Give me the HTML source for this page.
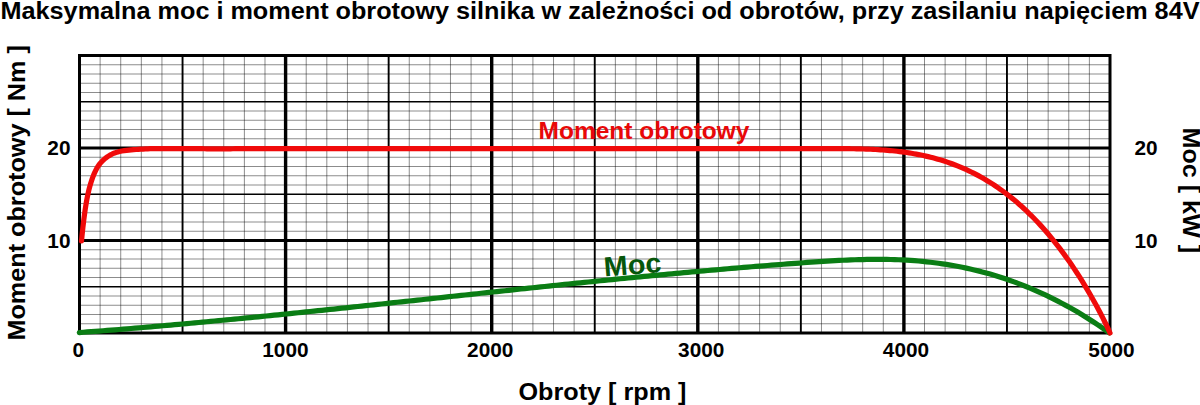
<!DOCTYPE html>
<html><head><meta charset="utf-8"><title>Moc i moment obrotowy</title>
<style>
html,body{margin:0;padding:0;background:#fff;}
body{width:1200px;height:405px;overflow:hidden;}
svg{display:block;}
</style></head><body>
<svg width="1200" height="405" viewBox="0 0 1200 405">
<rect width="1200" height="405" fill="#fff"/>
<g id="grid" shape-rendering="auto">
<line x1="100.11" y1="55.5" x2="100.11" y2="333" stroke="#000" stroke-opacity="0.45" stroke-width="1"/>
<line x1="120.72" y1="55.5" x2="120.72" y2="333" stroke="#000" stroke-opacity="0.45" stroke-width="1"/>
<line x1="141.33" y1="55.5" x2="141.33" y2="333" stroke="#000" stroke-opacity="0.45" stroke-width="1"/>
<line x1="161.94" y1="55.5" x2="161.94" y2="333" stroke="#000" stroke-opacity="0.45" stroke-width="1"/>
<line x1="182.55" y1="55.5" x2="182.55" y2="333" stroke="#000" stroke-width="1.9"/>
<line x1="203.16" y1="55.5" x2="203.16" y2="333" stroke="#000" stroke-opacity="0.45" stroke-width="1"/>
<line x1="223.77" y1="55.5" x2="223.77" y2="333" stroke="#000" stroke-opacity="0.45" stroke-width="1"/>
<line x1="244.38" y1="55.5" x2="244.38" y2="333" stroke="#000" stroke-opacity="0.45" stroke-width="1"/>
<line x1="264.99" y1="55.5" x2="264.99" y2="333" stroke="#000" stroke-opacity="0.45" stroke-width="1"/>
<line x1="285.60" y1="55.5" x2="285.60" y2="333" stroke="#000" stroke-width="3.4"/>
<line x1="306.21" y1="55.5" x2="306.21" y2="333" stroke="#000" stroke-opacity="0.45" stroke-width="1"/>
<line x1="326.82" y1="55.5" x2="326.82" y2="333" stroke="#000" stroke-opacity="0.45" stroke-width="1"/>
<line x1="347.43" y1="55.5" x2="347.43" y2="333" stroke="#000" stroke-opacity="0.45" stroke-width="1"/>
<line x1="368.04" y1="55.5" x2="368.04" y2="333" stroke="#000" stroke-opacity="0.45" stroke-width="1"/>
<line x1="388.65" y1="55.5" x2="388.65" y2="333" stroke="#000" stroke-width="1.9"/>
<line x1="409.26" y1="55.5" x2="409.26" y2="333" stroke="#000" stroke-opacity="0.45" stroke-width="1"/>
<line x1="429.87" y1="55.5" x2="429.87" y2="333" stroke="#000" stroke-opacity="0.45" stroke-width="1"/>
<line x1="450.48" y1="55.5" x2="450.48" y2="333" stroke="#000" stroke-opacity="0.45" stroke-width="1"/>
<line x1="471.09" y1="55.5" x2="471.09" y2="333" stroke="#000" stroke-opacity="0.45" stroke-width="1"/>
<line x1="491.70" y1="55.5" x2="491.70" y2="333" stroke="#000" stroke-width="3.4"/>
<line x1="512.31" y1="55.5" x2="512.31" y2="333" stroke="#000" stroke-opacity="0.45" stroke-width="1"/>
<line x1="532.92" y1="55.5" x2="532.92" y2="333" stroke="#000" stroke-opacity="0.45" stroke-width="1"/>
<line x1="553.53" y1="55.5" x2="553.53" y2="333" stroke="#000" stroke-opacity="0.45" stroke-width="1"/>
<line x1="574.14" y1="55.5" x2="574.14" y2="333" stroke="#000" stroke-opacity="0.45" stroke-width="1"/>
<line x1="594.75" y1="55.5" x2="594.75" y2="333" stroke="#000" stroke-width="1.9"/>
<line x1="615.36" y1="55.5" x2="615.36" y2="333" stroke="#000" stroke-opacity="0.45" stroke-width="1"/>
<line x1="635.97" y1="55.5" x2="635.97" y2="333" stroke="#000" stroke-opacity="0.45" stroke-width="1"/>
<line x1="656.58" y1="55.5" x2="656.58" y2="333" stroke="#000" stroke-opacity="0.45" stroke-width="1"/>
<line x1="677.19" y1="55.5" x2="677.19" y2="333" stroke="#000" stroke-opacity="0.45" stroke-width="1"/>
<line x1="697.80" y1="55.5" x2="697.80" y2="333" stroke="#000" stroke-width="3.4"/>
<line x1="718.41" y1="55.5" x2="718.41" y2="333" stroke="#000" stroke-opacity="0.45" stroke-width="1"/>
<line x1="739.02" y1="55.5" x2="739.02" y2="333" stroke="#000" stroke-opacity="0.45" stroke-width="1"/>
<line x1="759.63" y1="55.5" x2="759.63" y2="333" stroke="#000" stroke-opacity="0.45" stroke-width="1"/>
<line x1="780.24" y1="55.5" x2="780.24" y2="333" stroke="#000" stroke-opacity="0.45" stroke-width="1"/>
<line x1="800.85" y1="55.5" x2="800.85" y2="333" stroke="#000" stroke-width="1.9"/>
<line x1="821.46" y1="55.5" x2="821.46" y2="333" stroke="#000" stroke-opacity="0.45" stroke-width="1"/>
<line x1="842.07" y1="55.5" x2="842.07" y2="333" stroke="#000" stroke-opacity="0.45" stroke-width="1"/>
<line x1="862.68" y1="55.5" x2="862.68" y2="333" stroke="#000" stroke-opacity="0.45" stroke-width="1"/>
<line x1="883.29" y1="55.5" x2="883.29" y2="333" stroke="#000" stroke-opacity="0.45" stroke-width="1"/>
<line x1="903.90" y1="55.5" x2="903.90" y2="333" stroke="#000" stroke-width="3.4"/>
<line x1="924.51" y1="55.5" x2="924.51" y2="333" stroke="#000" stroke-opacity="0.45" stroke-width="1"/>
<line x1="945.12" y1="55.5" x2="945.12" y2="333" stroke="#000" stroke-opacity="0.45" stroke-width="1"/>
<line x1="965.73" y1="55.5" x2="965.73" y2="333" stroke="#000" stroke-opacity="0.45" stroke-width="1"/>
<line x1="986.34" y1="55.5" x2="986.34" y2="333" stroke="#000" stroke-opacity="0.45" stroke-width="1"/>
<line x1="1006.95" y1="55.5" x2="1006.95" y2="333" stroke="#000" stroke-width="1.9"/>
<line x1="1027.56" y1="55.5" x2="1027.56" y2="333" stroke="#000" stroke-opacity="0.45" stroke-width="1"/>
<line x1="1048.17" y1="55.5" x2="1048.17" y2="333" stroke="#000" stroke-opacity="0.45" stroke-width="1"/>
<line x1="1068.78" y1="55.5" x2="1068.78" y2="333" stroke="#000" stroke-opacity="0.45" stroke-width="1"/>
<line x1="1089.39" y1="55.5" x2="1089.39" y2="333" stroke="#000" stroke-opacity="0.45" stroke-width="1"/>
<line x1="79.5" y1="323.75" x2="1110" y2="323.75" stroke="#000" stroke-opacity="0.45" stroke-width="1"/>
<line x1="79.5" y1="314.50" x2="1110" y2="314.50" stroke="#000" stroke-opacity="0.45" stroke-width="1"/>
<line x1="79.5" y1="305.25" x2="1110" y2="305.25" stroke="#000" stroke-opacity="0.45" stroke-width="1"/>
<line x1="79.5" y1="296.00" x2="1110" y2="296.00" stroke="#000" stroke-opacity="0.45" stroke-width="1"/>
<line x1="79.5" y1="286.75" x2="1110" y2="286.75" stroke="#000" stroke-width="1.6"/>
<line x1="79.5" y1="277.50" x2="1110" y2="277.50" stroke="#000" stroke-opacity="0.45" stroke-width="1"/>
<line x1="79.5" y1="268.25" x2="1110" y2="268.25" stroke="#000" stroke-opacity="0.45" stroke-width="1"/>
<line x1="79.5" y1="259.00" x2="1110" y2="259.00" stroke="#000" stroke-opacity="0.45" stroke-width="1"/>
<line x1="79.5" y1="249.75" x2="1110" y2="249.75" stroke="#000" stroke-opacity="0.45" stroke-width="1"/>
<line x1="79.5" y1="240.50" x2="1110" y2="240.50" stroke="#000" stroke-width="3"/>
<line x1="79.5" y1="231.25" x2="1110" y2="231.25" stroke="#000" stroke-opacity="0.45" stroke-width="1"/>
<line x1="79.5" y1="222.00" x2="1110" y2="222.00" stroke="#000" stroke-opacity="0.45" stroke-width="1"/>
<line x1="79.5" y1="212.75" x2="1110" y2="212.75" stroke="#000" stroke-opacity="0.45" stroke-width="1"/>
<line x1="79.5" y1="203.50" x2="1110" y2="203.50" stroke="#000" stroke-opacity="0.45" stroke-width="1"/>
<line x1="79.5" y1="194.25" x2="1110" y2="194.25" stroke="#000" stroke-width="1.6"/>
<line x1="79.5" y1="185.00" x2="1110" y2="185.00" stroke="#000" stroke-opacity="0.45" stroke-width="1"/>
<line x1="79.5" y1="175.75" x2="1110" y2="175.75" stroke="#000" stroke-opacity="0.45" stroke-width="1"/>
<line x1="79.5" y1="166.50" x2="1110" y2="166.50" stroke="#000" stroke-opacity="0.45" stroke-width="1"/>
<line x1="79.5" y1="157.25" x2="1110" y2="157.25" stroke="#000" stroke-opacity="0.45" stroke-width="1"/>
<line x1="79.5" y1="148.00" x2="1110" y2="148.00" stroke="#000" stroke-width="3"/>
<line x1="79.5" y1="138.75" x2="1110" y2="138.75" stroke="#000" stroke-opacity="0.45" stroke-width="1"/>
<line x1="79.5" y1="129.50" x2="1110" y2="129.50" stroke="#000" stroke-opacity="0.45" stroke-width="1"/>
<line x1="79.5" y1="120.25" x2="1110" y2="120.25" stroke="#000" stroke-opacity="0.45" stroke-width="1"/>
<line x1="79.5" y1="111.00" x2="1110" y2="111.00" stroke="#000" stroke-opacity="0.45" stroke-width="1"/>
<line x1="79.5" y1="101.75" x2="1110" y2="101.75" stroke="#000" stroke-width="1.6"/>
<line x1="79.5" y1="92.50" x2="1110" y2="92.50" stroke="#000" stroke-opacity="0.45" stroke-width="1"/>
<line x1="79.5" y1="83.25" x2="1110" y2="83.25" stroke="#000" stroke-opacity="0.45" stroke-width="1"/>
<line x1="79.5" y1="74.00" x2="1110" y2="74.00" stroke="#000" stroke-opacity="0.45" stroke-width="1"/>
<line x1="79.5" y1="64.75" x2="1110" y2="64.75" stroke="#000" stroke-opacity="0.45" stroke-width="1"/>
<rect x="79.5" y="55.5" width="1030.5" height="277.5" fill="none" stroke="#000" stroke-width="3"/>
</g>
<g font-family="'Liberation Sans', Arial, Helvetica, sans-serif" font-weight="bold" fill="#000">
<text x="0.5" y="18.6" font-size="24.4" textLength="1199" lengthAdjust="spacingAndGlyphs">Maksymalna moc i moment obrotowy silnika w zależności od obrotów, przy zasilaniu napięciem 84V</text>
<text transform="translate(24.6,340.6) rotate(-90)" font-size="24.6" textLength="295.5" lengthAdjust="spacingAndGlyphs">Moment obrotowy [ Nm ]</text>
<text transform="translate(1182.8,127.5) rotate(90)" font-size="24.6" textLength="125.5" lengthAdjust="spacingAndGlyphs">Moc [ kW ]</text>
<text x="518.5" y="400" font-size="24.4" textLength="168" lengthAdjust="spacingAndGlyphs">Obroty [ rpm ]</text>
<g font-size="20.8">
<text x="70.5" y="155.3" text-anchor="end">20</text>
<text x="70.5" y="247.8" text-anchor="end">10</text>
<text x="1134.5" y="155.3">20</text>
<text x="1134.5" y="248.3">10</text>
<g text-anchor="middle">
<text x="78.3" y="357">0</text>
<text x="285.4" y="357">1000</text>
<text x="490.2" y="357">2000</text>
<text x="701.2" y="357">3000</text>
<text x="906" y="357">4000</text>
<text x="1111.5" y="357">5000</text>
</g>
</g>
</g>
<text x="538.5" y="139.2" font-family="'Liberation Sans', Arial, Helvetica, sans-serif" font-weight="bold" font-size="24.2" fill="#e80808" textLength="211" lengthAdjust="spacingAndGlyphs">Moment obrotowy</text>
<text transform="translate(604.6,276.6) rotate(-4.5)" font-family="'Liberation Sans', Arial, Helvetica, sans-serif" font-weight="bold" font-size="27.6" fill="#06560b" textLength="57.5" lengthAdjust="spacingAndGlyphs">Moc</text>
<path d="M79.30,332.56 L83.28,332.26 L87.26,331.96 L91.23,331.66 L95.21,331.35 L99.19,331.05 L103.17,330.74 L107.14,330.42 L111.12,330.11 L115.10,329.79 L119.08,329.47 L123.05,329.14 L127.03,328.82 L131.01,328.49 L134.99,328.15 L138.96,327.82 L142.94,327.48 L146.92,327.14 L150.90,326.80 L154.87,326.46 L158.85,326.11 L162.83,325.76 L166.81,325.41 L170.78,325.06 L174.76,324.70 L178.74,324.35 L182.72,323.99 L186.70,323.62 L190.67,323.26 L194.65,322.89 L198.63,322.53 L202.61,322.16 L206.58,321.78 L210.56,321.41 L214.54,321.03 L218.52,320.66 L222.49,320.28 L226.47,319.90 L230.45,319.51 L234.43,319.13 L238.40,318.74 L242.38,318.35 L246.36,317.96 L250.34,317.57 L254.31,317.18 L258.29,316.79 L262.27,316.39 L266.25,315.99 L270.23,315.59 L274.20,315.19 L278.18,314.79 L282.16,314.39 L286.14,313.99 L290.11,313.58 L294.09,313.17 L298.07,312.77 L302.05,312.36 L306.02,311.95 L310.00,311.53 L313.98,311.12 L317.96,310.71 L321.93,310.29 L325.91,309.88 L329.89,309.46 L333.87,309.05 L337.84,308.63 L341.82,308.21 L345.80,307.79 L349.78,307.37 L353.75,306.95 L357.73,306.53 L361.71,306.10 L365.69,305.68 L369.67,305.26 L373.64,304.83 L377.62,304.41 L381.60,303.98 L385.58,303.56 L389.55,303.13 L393.53,302.70 L397.51,302.28 L401.49,301.85 L405.46,301.42 L409.44,300.99 L413.42,300.57 L417.40,300.14 L421.37,299.71 L425.35,299.28 L429.33,298.85 L433.31,298.42 L437.28,297.99 L441.26,297.56 L445.24,297.13 L449.22,296.71 L453.19,296.28 L457.17,295.85 L461.15,295.42 L465.13,294.99 L469.11,294.56 L473.08,294.14 L477.06,293.71 L481.04,293.28 L485.02,292.85 L488.99,292.43 L492.97,292.00 L496.95,291.58 L500.93,291.15 L504.90,290.73 L508.88,290.30 L512.86,289.88 L516.84,289.45 L520.81,289.03 L524.79,288.61 L528.77,288.19 L532.75,287.77 L536.72,287.35 L540.70,286.93 L544.68,286.51 L548.66,286.10 L552.64,285.68 L556.61,285.27 L560.59,284.85 L564.57,284.44 L568.55,284.03 L572.52,283.62 L576.50,283.21 L580.48,282.80 L584.46,282.39 L588.43,281.98 L592.41,281.58 L596.39,281.18 L600.37,280.77 L604.34,280.37 L608.32,279.97 L612.30,279.57 L616.28,279.18 L620.25,278.78 L624.23,278.39 L628.21,278.00 L632.19,277.60 L636.16,277.22 L640.14,276.83 L644.12,276.44 L648.10,276.06 L652.08,275.68 L656.05,275.29 L660.03,274.92 L664.01,274.54 L667.99,274.16 L671.96,273.79 L675.94,273.42 L679.92,273.05 L683.90,272.68 L687.87,272.32 L691.85,271.95 L695.83,271.59 L699.81,271.23 L703.78,270.88 L707.76,270.52 L711.74,270.17 L715.72,269.82 L719.69,269.47 L723.67,269.13 L727.65,268.78 L731.63,268.44 L735.61,268.10 L739.58,267.77 L743.56,267.43 L747.54,267.10 L751.52,266.77 L755.49,266.45 L759.47,266.13 L763.45,265.80 L767.43,265.49 L771.40,265.17 L775.38,264.86 L779.36,264.55 L783.34,264.24 L787.31,263.94 L791.29,263.64 L795.27,263.34 L799.25,263.05 L803.22,262.75 L807.20,262.46 L811.18,262.18 L815.16,261.90 L819.13,261.63 L823.11,261.37 L827.09,261.12 L831.07,260.88 L835.05,260.66 L839.02,260.44 L843.00,260.25 L846.98,260.06 L850.96,259.90 L854.93,259.75 L858.91,259.63 L862.89,259.53 L866.87,259.45 L870.84,259.39 L874.82,259.36 L878.80,259.35 L882.78,259.38 L886.75,259.43 L890.73,259.51 L894.71,259.62 L898.69,259.77 L902.66,259.95 L906.64,260.17 L910.62,260.42 L914.60,260.71 L918.57,261.03 L922.55,261.40 L926.53,261.80 L930.51,262.25 L934.49,262.73 L938.46,263.26 L942.44,263.82 L946.42,264.43 L950.40,265.08 L954.37,265.78 L958.35,266.52 L962.33,267.30 L966.31,268.13 L970.28,269.01 L974.26,269.93 L978.24,270.90 L982.22,271.92 L986.19,272.99 L990.17,274.11 L994.15,275.27 L998.13,276.49 L1002.10,277.76 L1006.08,279.08 L1010.06,280.45 L1014.04,281.88 L1018.02,283.35 L1021.99,284.88 L1025.97,286.47 L1029.95,288.10 L1033.93,289.80 L1037.90,291.54 L1041.88,293.34 L1045.86,295.20 L1049.84,297.11 L1053.81,299.09 L1057.79,301.11 L1061.77,303.20 L1065.75,305.34 L1069.72,307.54 L1073.70,309.80 L1077.68,312.12 L1081.66,314.50 L1085.63,316.94 L1089.61,319.43 L1093.59,321.99 L1097.57,324.61 L1101.54,327.30 L1105.52,330.04 L1109.50,332.85" fill="none" stroke="#0a7d14" stroke-width="5.2" stroke-linecap="round" stroke-linejoin="round"/>
<path d="M81.50,241.01 L81.97,236.17 L82.45,231.59 L82.92,227.24 L83.40,223.13 L83.87,219.25 L84.35,215.59 L84.82,212.14 L85.29,208.89 L85.77,205.84 L86.24,202.98 L86.72,200.30 L87.19,197.79 L87.67,195.44 L88.14,193.23 L88.62,191.16 L89.09,189.22 L89.56,187.39 L90.04,185.66 L90.51,184.03 L90.99,182.47 L91.46,180.99 L91.94,179.57 L92.41,178.22 L92.88,176.92 L93.36,175.69 L93.83,174.51 L94.31,173.39 L94.78,172.33 L95.26,171.31 L95.73,170.35 L96.21,169.43 L96.68,168.56 L97.15,167.73 L97.63,166.94 L98.10,166.20 L98.58,165.49 L99.05,164.82 L99.53,164.18 L100.00,163.57 L100.50,162.96 L102.86,160.46 L105.23,158.40 L107.59,156.65 L109.96,155.17 L112.32,153.95 L114.69,152.94 L117.05,152.14 L119.42,151.49 L121.78,150.99 L124.14,150.61 L126.51,150.30 L128.87,150.06 L131.24,149.85 L133.60,149.65 L135.97,149.47 L138.33,149.31 L140.69,149.17 L143.06,149.03 L145.42,148.92 L147.79,148.81 L150.15,148.72 L152.52,148.64 L154.88,148.60 L157.25,148.60 L159.61,148.60 L161.97,148.60 L164.34,148.60 L166.70,148.60 L169.07,148.60 L171.43,148.60 L173.80,148.60 L176.16,148.60 L178.53,148.60 L180.89,148.60 L183.25,148.60 L185.62,148.60 L187.98,148.60 L190.35,148.60 L192.71,148.60 L195.08,148.62 L197.44,148.65 L199.81,148.69 L202.17,148.72 L204.53,148.75 L206.90,148.78 L209.26,148.81 L211.63,148.83 L213.99,148.85 L216.36,148.86 L218.72,148.87 L221.08,148.87 L223.45,148.86 L225.81,148.85 L228.18,148.83 L230.54,148.80 L232.91,148.76 L235.27,148.71 L237.64,148.65 L240.00,148.60 L825.29,148.60 L827.68,148.60 L830.08,148.60 L832.47,148.60 L834.86,148.61 L837.25,148.61 L839.65,148.62 L842.04,148.63 L844.43,148.65 L846.82,148.67 L849.22,148.70 L851.61,148.73 L854.00,148.77 L856.39,148.81 L858.79,148.86 L861.18,148.93 L863.57,149.00 L865.96,149.08 L868.36,149.17 L870.75,149.27 L873.14,149.38 L875.53,149.51 L877.93,149.65 L880.32,149.80 L882.71,149.97 L885.10,150.15 L887.50,150.34 L889.89,150.55 L892.28,150.78 L894.67,151.03 L897.07,151.29 L899.46,151.57 L901.85,151.88 L904.24,152.20 L906.64,152.54 L909.03,152.90 L911.42,153.29 L913.81,153.70 L916.21,154.13 L918.60,154.58 L920.99,155.06 L923.38,155.57 L925.78,156.10 L928.17,156.65 L930.56,157.24 L932.95,157.85 L935.35,158.49 L937.74,159.16 L940.13,159.86 L942.52,160.59 L944.92,161.35 L947.31,162.14 L949.70,162.97 L952.09,163.82 L954.49,164.72 L956.88,165.64 L959.27,166.60 L961.66,167.60 L964.06,168.64 L966.45,169.71 L968.84,170.82 L971.23,171.97 L973.63,173.16 L976.02,174.38 L978.41,175.65 L980.80,176.96 L983.20,178.32 L985.59,179.71 L987.98,181.15 L990.37,182.64 L992.77,184.16 L995.16,185.74 L997.55,187.36 L999.94,189.03 L1002.34,190.75 L1004.73,192.51 L1007.12,194.33 L1009.51,196.19 L1011.91,198.11 L1014.30,200.08 L1016.69,202.10 L1019.08,204.17 L1021.48,206.30 L1023.87,208.48 L1026.26,210.72 L1028.65,213.02 L1031.05,215.37 L1033.44,217.78 L1035.83,220.26 L1038.22,222.79 L1040.62,225.38 L1043.01,228.03 L1045.40,230.75 L1047.79,233.53 L1050.19,236.37 L1052.58,239.28 L1054.97,242.26 L1057.36,245.30 L1059.76,248.42 L1062.15,251.60 L1064.54,254.85 L1066.93,258.18 L1069.33,261.58 L1071.72,265.05 L1074.11,268.60 L1076.50,272.23 L1078.90,275.94 L1081.29,279.73 L1083.68,283.60 L1086.07,287.56 L1088.47,291.60 L1090.86,295.74 L1093.25,299.96 L1095.64,304.29 L1098.04,308.72 L1100.43,313.26 L1102.82,317.92 L1105.21,322.72 L1107.61,327.69 L1110.00,333.00" fill="none" stroke="#f00a0a" stroke-width="5.2" stroke-linecap="round" stroke-linejoin="round"/>
</svg>
</body></html>
